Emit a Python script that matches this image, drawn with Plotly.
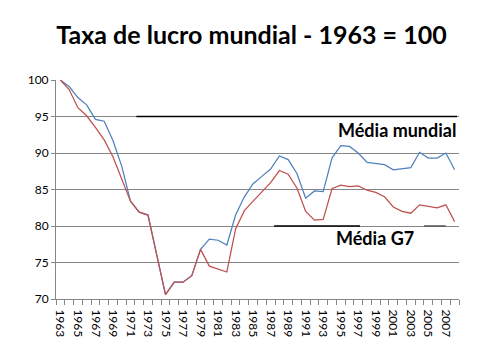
import plotly.graph_objects as go

years = list(range(1963, 2009))
mundial = [100, 99.1, 97.6, 96.6, 94.6, 94.35, 91.7, 88.2, 83.4, 81.9,
           81.5, 76.0, 70.6, 72.3, 72.3, 73.2, 76.8, 78.2, 78.05, 77.4,
           81.5, 84.0, 85.8, 86.8, 87.8, 89.6, 89.1, 87.2, 83.8, 84.8,
           84.7, 89.3, 91.0, 90.9, 90.0, 88.7, 88.6, 88.4, 87.7, 87.8,
           88.0, 90.1, 89.3, 89.3, 90.0, 87.7]
g7 = [100, 98.7, 96.2, 95.1, 93.5, 91.8, 89.5, 86.4, 83.4, 81.9,
      81.5, 76.0, 70.6, 72.3, 72.3, 73.2, 76.8, 74.5, 74.1, 73.7,
      79.6, 82.1, 83.4, 84.7, 85.95, 87.6, 87.1, 85.2, 82.0, 80.8,
      80.9, 85.1, 85.6, 85.4, 85.5, 84.9, 84.6, 84.0, 82.6, 82.0,
      81.75, 82.9, 82.65, 82.5, 82.9, 80.6]
tick_years = [y for y in years if y % 2 == 1]
tick_labels = [str(y) for y in tick_years]

media_mundial = 95
media_mundial_span = [1971.67, 2008.27]
media_g7 = 80
media_g7_spans = [[1987.4, 1997.2], [2004.5, 2007.0]]

title_text = "Taxa de lucro mundial - 1963 = 100"
label_mundial = "Média mundial"
label_g7 = "Média G7"

FONT = "Lato, 'Open Sans', sans-serif"
GRID = "#868686"

# page body adds an 8px offset; figure is sized to fill the rest of the window
OFF = 8
W, H = 480 - OFF, 358 - OFF
l, t = 56 - OFF, 80 - OFF
r, b = 21, 59
pw, ph = W - l - r, H - t - b


def px_to_paper(px, py):
    return (px - OFF - l) / pw, 1 - (py - OFF - t) / ph


fig = go.Figure()
fig.add_trace(go.Scatter(x=years, y=mundial, mode="lines",
                         line=dict(color="#4F81BD", width=1.25)))
fig.add_trace(go.Scatter(x=years, y=g7, mode="lines",
                         line=dict(color="#C0504D", width=1.25)))

fig.add_shape(type="line", xref="x", yref="y",
              x0=media_mundial_span[0], x1=media_mundial_span[1],
              y0=media_mundial, y1=media_mundial,
              line=dict(color="black", width=1.5))
for i, (a, c) in enumerate(media_g7_spans):
    fig.add_shape(type="line", xref="x", yref="y", x0=a, x1=c,
                  y0=media_g7, y1=media_g7,
                  line=dict(color="black" if i == 0 else "#555555", width=1.5))

ax, ay = px_to_paper(458, 130)
fig.add_annotation(x=ax, y=ay, xref="paper", yref="paper", text="<b>%s</b>" % label_mundial,
                   xanchor="right", yanchor="middle", showarrow=False,
                   font=dict(family=FONT, size=18, color="black"))
ax, ay = px_to_paper(374.5, 238)
fig.add_annotation(x=ax, y=ay, xref="paper", yref="paper", text="<b>%s</b>" % label_g7,
                   xanchor="center", yanchor="middle", showarrow=False,
                   font=dict(family=FONT, size=18, color="black"))

boundaries = [y - 0.5 for y in years] + [years[-1] + 0.5]

fig.update_layout(
    width=W, height=H,
    margin=dict(l=l, r=r, t=t, b=b, autoexpand=False),
    paper_bgcolor="white", plot_bgcolor="white",
    showlegend=False,
    title=dict(text="<b>%s</b>" % title_text, x=(251.5 - OFF) / W, xanchor="center",
               y=1 - (35 - OFF) / H, yanchor="middle", xref="container", yref="container",
               font=dict(family=FONT, size=25, color="black")),
    xaxis=dict(range=[1962.5, 2008.5], tickmode="array", tickvals=tick_years,
               ticktext=tick_labels, tickangle=90, ticks="", showgrid=False,
               showline=True, linecolor=GRID, linewidth=1, zeroline=False,
               ticklabelstandoff=7,
               tickfont=dict(family=FONT, size=12, color="black"),
               minor=dict(tickmode="array", tickvals=boundaries, ticks="outside",
                          ticklen=5, tickcolor=GRID, tickwidth=1, showgrid=False)),
    yaxis=dict(range=[70, 100], dtick=5, tick0=70, showgrid=True, gridcolor=GRID,
               gridwidth=1, showline=True, linecolor=GRID, linewidth=1, zeroline=False,
               ticks="outside", ticklen=4, tickcolor=GRID,
               tickfont=dict(family=FONT, size=12, color="black")),
)

fig.write_html("out.html")
